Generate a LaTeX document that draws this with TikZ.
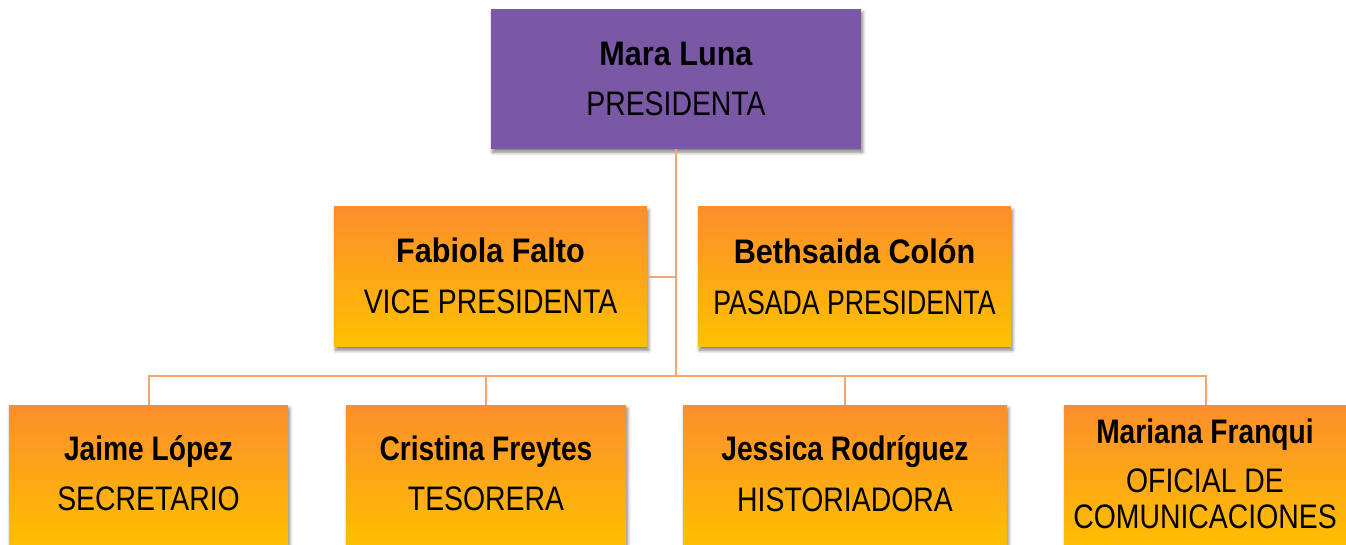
\documentclass[tikz,border=0pt]{standalone}
\usepackage{fontspec}
\setmainfont{Liberation Sans}[FakeStretch=0.835, BoldFeatures={FakeStretch=0.90}]
\usetikzlibrary{shadows.blur}
\definecolor{purplebox}{RGB}{123,88,166}
\definecolor{ortop}{RGB}{252,142,44}
\definecolor{orbot}{RGB}{255,193,0}
\definecolor{conn}{RGB}{244,164,108}
\tikzset{
  boxbase/.style={rectangle, draw=none, inner sep=0pt,
    blur shadow={shadow xshift=1.2pt, shadow yshift=-2.4pt, shadow blur steps=6, shadow blur radius=2.5pt, shadow opacity=50}},
  pbox/.style={boxbase, fill=purplebox},
  obox/.style={boxbase, top color=ortop, bottom color=orbot},
  nametxt/.style={anchor=base, inner sep=0pt, font=\fontsize{25.5}{30}\selectfont\bfseries},
  roletxt/.style={anchor=base, inner sep=0pt, font=\fontsize{25.5}{30}\selectfont},
  link/.style={draw=conn, line width=1.5pt}
}
\newcommand{\narrowname}[1]{\scalebox{0.92}[1]{#1}}
\begin{document}
\begin{tikzpicture}[x=0.75pt, y=-0.75pt]
\useasboundingbox (0,0) rectangle (1346,545);
% boxes
\node[pbox, minimum width=370*0.75pt, minimum height=140*0.75pt] (pres) at (676,79) {};
\node[obox, minimum width=313*0.75pt, minimum height=140*0.75pt] (fab) at (490.5,277) {};
\node[obox, minimum width=313*0.75pt, minimum height=140*0.75pt] (bet) at (854.5,277) {};
\node[obox, minimum width=279*0.75pt, minimum height=145*0.75pt] (jai) at (148.5,477.5) {};
\node[obox, minimum width=280*0.75pt, minimum height=145*0.75pt] (cri) at (486,477.5) {};
\node[obox, minimum width=324*0.75pt, minimum height=145*0.75pt] (jes) at (845,477.5) {};
\node[obox, minimum width=284*0.75pt, minimum height=145*0.75pt] (mar) at (1206,477.5) {};
% connectors
\coordinate (bus) at (676,376);
\draw[link] (pres.south) -- (bus);
\draw[link] (fab.east) -- (fab.east -| pres.south);
\draw[link] (jai.north) |- (bus);
\draw[link] (cri.north) |- (bus);
\draw[link] (jes.north) |- (bus);
\draw[link] (mar.north) |- (bus);
% texts
\node[nametxt] (presn) at (676,66) {Mara Luna};
\node[roletxt] (presr) at (676,116) {PRESIDENTA};
\node[nametxt] (fabn) at (490.5,263) {Fabiola Falto};
\node[roletxt] (fabr) at (490.5,314) {VICE PRESIDENTA};
\node[nametxt] (betn) at (854.5,264) {Bethsaida Colón};
\node[roletxt] (betr) at (854.5,315) {\scalebox{0.94}[1]{PASADA PRESIDENTA}};
\node[nametxt] (jain) at (148.5,460) {\narrowname{Jaime López}};
\node[roletxt] (jair) at (148.5,510) {SECRETARIO};
\node[nametxt] (crin) at (486,460) {\narrowname{Cristina Freytes}};
\node[roletxt] (crir) at (486,510) {TESORERA};
\node[nametxt] (jesn) at (845,460) {\narrowname{Jessica Rodríguez}};
\node[roletxt] (jesr) at (845,511) {HISTORIADORA};
\node[nametxt] (marn) at (1205,443) {\narrowname{Mariana Franqui}};
\node[roletxt] (marr1) at (1205,492) {OFICIAL DE};
\node[roletxt] (marr2) at (1205,528) {COMUNICACIONES};
\end{tikzpicture}
\end{document}
